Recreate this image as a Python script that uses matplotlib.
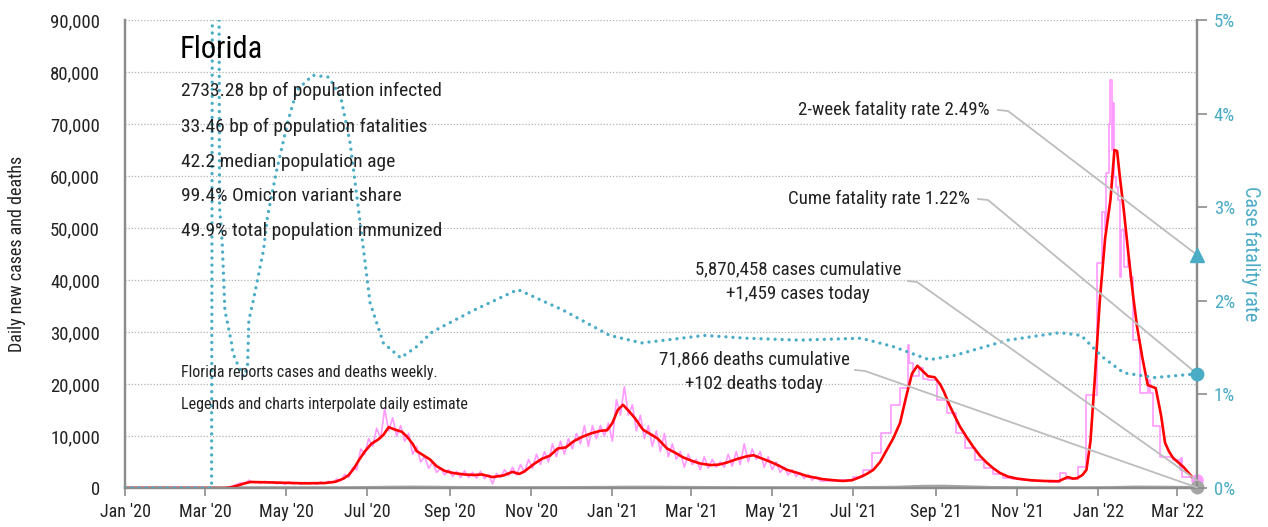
import numpy as np
import matplotlib
matplotlib.use('Agg')
import matplotlib.pyplot as plt
import matplotlib.dates as mdates
from matplotlib import font_manager as fm
from matplotlib.ticker import FuncFormatter, FixedLocator
from matplotlib.transforms import Bbox, TransformedBbox

# ---------------- fonts ----------------
_names = {f.name for f in fm.fontManager.ttflist}
FONT = 'DejaVu Sans'
for cand in ['Liberation Sans Narrow', 'Roboto Condensed', 'Open Sans Condensed',
             'DejaVu Sans Condensed', 'Liberation Sans']:
    if cand in _names:
        FONT = cand
        break
plt.rcParams['font.family'] = [FONT, 'DejaVu Sans']

# ---------------- data ----------------
BASE = np.datetime64('2020-01-01')
END_DAY = 805  # ~2022-03-16

# 7-day average of new cases (red): (day offset from BASE, value)
avg_days = [0, 75, 79, 85, 90, 94, 105, 120, 135, 150, 158, 164, 168, 172, 176, 180, 185, 190, 194,
            198, 203, 208, 212, 216, 219, 224, 229, 234, 240, 246, 255, 262, 268, 276, 284, 291, 296,
            300, 307, 313, 319, 325, 331, 337, 343, 350, 357, 362, 366, 370, 374, 379, 383, 389, 395,
            400, 407, 413, 419, 426, 432, 440, 446, 452, 460, 467, 472, 478, 485, 491, 497, 505, 512,
            518, 524, 532, 539, 546, 552, 557, 562, 567, 572, 577, 582, 587, 591, 595, 599, 603, 608,
            612, 615, 619, 622, 627, 632, 637, 642, 647, 652, 657, 663, 670, 680, 690, 701, 708, 712,
            715, 719, 722, 725, 728, 732, 736, 740, 743, 745, 747, 750, 754, 757, 760, 764, 768, 771,
            774, 778, 781, 784, 787, 795, 802, 805]
avg_vals = [0, 0, 100, 500, 900, 1150, 1100, 1000, 900, 950, 1200, 1800, 2500, 3800, 5500, 7000, 8500,
            9300, 10200, 11700, 11200, 10800, 9800, 8500, 7100, 6300, 5500, 4200, 3300, 2900, 2600,
            2500, 2600, 2100, 2400, 3100, 2700, 3200, 4600, 5600, 6200, 7600, 7800, 9000, 9800, 10500,
            11000, 11100, 12500, 15000, 16000, 14600, 13400, 11200, 10300, 9500, 7600, 6800, 5900, 5200,
            4700, 4400, 4500, 4900, 5600, 6100, 6300, 5700, 5000, 4300, 3500, 2900, 2300, 2000, 1700,
            1500, 1350, 1500, 2100, 2700, 3500, 5000, 7300, 9600, 12500, 18000, 22000, 23500, 22500,
            21500, 21300, 20000, 18500, 16000, 14400, 11800, 9800, 7900, 6200, 4900, 3800, 2900, 2200,
            1800, 1500, 1350, 1300, 2100, 1800, 1900, 2500, 3500, 9000, 20000, 36000, 48000, 55400,
            65000, 64800, 60000, 53500, 43800, 37000, 31000, 25000, 19800, 19500, 19200, 14000, 8700,
            7000, 5800, 4000, 1900, 1400]

# daily new cases (pink), daily reporting period: every 3 days from 2020-03-01 (day 60)
daily_start_day = 60
daily_step = 3
daily_vals = [0, 0, 0, 0, 0, 50, 150, 400, 700, 1000, 800, 1500, 1100, 1200, 900, 1300, 1000, 1200,
              800, 1100, 700, 1200, 800, 1000, 700, 1100, 800, 1000, 700, 1200, 900, 1300, 1000, 1700,
              1400, 2600, 2000, 4000, 3500, 7500, 6500, 9500, 8000, 11500, 9500, 15300, 11000, 13500,
              10000, 12000, 9000, 10500, 6500, 8000, 5000, 6000, 3800, 5000, 3000, 3800, 2500, 3500,
              2200, 3200, 2000, 3300, 2000, 3000, 1900, 3200, 1800, 2600, 800, 2800, 2000, 3500, 2400,
              4000, 2500, 4500, 3000, 5500, 3800, 6500, 4500, 7000, 5000, 8500, 6000, 9000, 6500, 9500,
              7500, 10500, 8500, 12000, 8000, 12000, 9500, 12000, 10000, 12500, 9000, 17000, 14000,
              19500, 14000, 16000, 11000, 14000, 9500, 12000, 8000, 11000, 7000, 10500, 6000, 8500,
              5500, 7000, 4000, 6500, 4500, 5500, 3500, 6000, 3800, 5500, 4000, 5000, 4000, 6500, 4200,
              7000, 4500, 8500, 5000, 7500, 5500, 7000, 4000, 6000, 3500, 5000, 3000, 4000, 2500, 3500,
              2200, 3000, 1800, 2600, 1500, 2200, 1400]

# daily new cases (pink), weekly-report period drawn as steps: (day offset, value)
weekly_days = [523, 530, 537, 547, 554, 561, 568, 575, 582, 588, 589, 592, 596, 599, 603, 610, 617,
               624, 631, 638, 645, 652, 659, 666, 673, 680, 687, 694, 702, 707, 716, 722, 730, 734,
               736, 737, 739, 740, 741, 742, 743, 744, 746, 747, 748, 750, 753, 755, 757, 762, 768,
               770, 772, 777, 787, 792, 793, 794, 805]
weekly_vals = [1400, 1400, 1500, 2100, 3500, 6700, 10500, 16000, 19200, 27500, 24000, 21500, 23000,
               21000, 20800, 16900, 14400, 10600, 7700, 5400, 3800, 2700, 2000, 1700, 1500, 1400, 1300,
               1200, 2900, 1800, 4000, 17900, 43300, 53000, 49600, 60600, 70000, 78500, 65000, 74000,
               59800, 57900, 55400, 40600, 49600, 42500, 43800, 40600, 28500, 18300, 20800, 18300,
               12000, 6000, 5400, 3500, 5800, 2100, 1459]

# daily deaths (gray)
death_days = [0, 75, 90, 110, 130, 160, 180, 200, 215, 230, 250, 270, 300, 330, 360, 380, 400, 430,
              460, 500, 540, 580, 600, 615, 630, 650, 680, 720, 740, 760, 780, 805]
death_vals = [0, 0, 40, 50, 40, 40, 80, 150, 180, 150, 100, 80, 60, 80, 120, 160, 150, 100, 60, 50, 40,
              150, 330, 350, 250, 100, 40, 30, 80, 180, 150, 102]

# case fatality rate, % (teal dotted)
cfr_days = [0, 65, 66, 70, 71, 73, 75, 80, 81, 84, 89, 92, 93, 96, 101, 104, 107, 114, 122, 129, 141,
            153, 162, 169, 177, 184, 194, 207, 219, 231, 262, 295, 329, 364, 388, 435, 467, 506, 553,
            577, 604, 624, 663, 702, 718, 734, 750, 773, 805]
cfr_vals = [0, 0, 9.0, 9.0, 3.0, 2.62, 1.9, 1.55, 1.44, 1.34, 1.19, 1.29, 1.79, 1.98, 2.33, 2.54, 2.9,
            3.4, 3.9, 4.25, 4.41, 4.39, 4.18, 3.69, 2.79, 1.98, 1.55, 1.39, 1.51, 1.67, 1.9, 2.12, 1.9,
            1.63, 1.55, 1.63, 1.6, 1.58, 1.6, 1.51, 1.37, 1.42, 1.58, 1.66, 1.63, 1.4, 1.23, 1.18, 1.22]

two_week_cfr = 2.49
cume_cfr = 1.22
cases_today = 1459
deaths_today = 102

title = 'Florida'
stats = ['2733.28 bp of population infected',
         '33.46 bp of population fatalities',
         '42.2 median population age',
         '99.4% Omicron variant share',
         '49.9% total population immunized']
notes = ['Florida reports cases and deaths weekly.',
         'Legends and charts interpolate daily estimates.']
ann_2wk = '2-week fatality rate 2.49%'
ann_cume = 'Cume fatality rate 1.22%'
ann_cases = '5,870,458 cases cumulative\n+1,459 cases today'
ann_deaths = '71,866 deaths cumulative\n+102 deaths today'

# ---------------- styling ----------------
PINK = '#ff99ff'
RED = '#ff0000'
TEAL = '#4bacc6'
GRAY = '#a6a6a6'
SPINE = '#8c8c8c'
TXT = '#222222'


def d(days):
    return BASE + np.asarray(days).astype('timedelta64[D]')


fig = plt.figure(figsize=(12.68, 5.27), dpi=100)
ax = fig.add_axes([125 / 1268, 39 / 527, 1072 / 1268, 468 / 527])
ax2 = ax.twinx()

xmin, xmax = d(0), d(END_DAY)
ax.set_xlim(xmin, xmax)
ax.set_ylim(0, 90000)
ax2.set_ylim(0, 5)

# grid
for v in range(10000, 90001, 10000):
    ax.axhline(v, color='#b3b3b3', lw=0.9, ls=(0, (1, 1.5)), zorder=0)

# series
daily_days = [daily_start_day + i * daily_step for i in range(len(daily_vals))]
ax.plot(d(daily_days), daily_vals, color=PINK, lw=1.2, zorder=2)
ax.plot(d(weekly_days), weekly_vals, color=PINK, lw=1.2, drawstyle='steps-post', zorder=2)
ax.plot(d(death_days), death_vals, color=GRAY, lw=2.2, zorder=2)
ax.plot(d(avg_days), avg_vals, color=RED, lw=1.9, zorder=3)
ax2.plot(d(cfr_days), cfr_vals, color=TEAL, lw=2.4, ls=(0, (0.01, 2.1)),
         dash_capstyle='round', zorder=3)

# end markers
ax2.plot([d(END_DAY)], [two_week_cfr], marker='^', ms=10, color=TEAL, clip_on=False, zorder=5)
ax2.plot([d(END_DAY)], [cume_cfr], marker='o', ms=9, color=TEAL, clip_on=False, zorder=5)
ax.plot([d(END_DAY)], [cases_today], marker='o', ms=8, color=PINK, clip_on=False, zorder=5)
ax.plot([d(END_DAY)], [deaths_today], marker='o', ms=9, color=GRAY, clip_on=False, zorder=5)

# axes formatting
ax.xaxis.set_major_locator(mdates.MonthLocator(bymonth=[1, 3, 5, 7, 9, 11]))
ax.xaxis.set_major_formatter(mdates.DateFormatter("%b '%y"))
ax.yaxis.set_major_locator(FixedLocator(list(range(0, 90001, 10000))))
ax.yaxis.set_major_formatter(FuncFormatter(lambda v, p: f'{int(v):,}'))
ax2.yaxis.set_major_locator(FixedLocator([0, 1, 2, 3, 4, 5]))
ax2.yaxis.set_major_formatter(FuncFormatter(lambda v, p: f'{int(v)}%'))

for a in (ax, ax2):
    a.spines['top'].set_visible(False)
    for s in ('left', 'right', 'bottom'):
        a.spines[s].set_color(SPINE)
        a.spines[s].set_linewidth(1.6)

ax.tick_params(axis='x', colors=SPINE, length=6, width=1.2, labelcolor=TXT, labelsize=13, pad=5)
ax.tick_params(axis='y', colors=SPINE, length=0, labelcolor=TXT, labelsize=13.5, pad=18)
ax2.tick_params(axis='y', colors=SPINE, length=7, width=1.2, labelcolor=TEAL, labelsize=13.5, pad=5)

ax.set_ylabel('Daily new cases and deaths', fontsize=13, color=TXT)
ax.yaxis.label.set(ha='center', va='center', rotation=90, rotation_mode='default')
ax.yaxis.set_label_coords((17 - 125) / 1072, 0.5)
ax2.set_ylabel('Case fatality rate', fontsize=14.5, color=TEAL)
ax2.yaxis.label.set(ha='center', va='center', rotation=270, rotation_mode='default')
ax2.yaxis.set_label_coords((1251 - 125) / 1072, 0.5)

# text block
def fx(px):
    return (px - 125) / 1072


def fy(py):
    return (488 - py) / 468


ax2.text(fx(180), fy(50), title, transform=ax.transAxes, fontsize=22, color='black',
         va='center', ha='left', zorder=6)
for i, s in enumerate(stats):
    ax2.text(fx(181), fy([91, 127, 162, 196, 231][i]), s, transform=ax.transAxes, fontsize=14,
             color=TXT, va='center', ha='left', zorder=6)
ax2.text(fx(181), fy(373), notes[0], transform=ax.transAxes, fontsize=11.5, color=TXT,
         va='center', ha='left', zorder=6)
t = ax2.text(fx(181), fy(405), notes[1], transform=ax.transAxes, fontsize=11.5, color=TXT,
             va='center', ha='left', zorder=6)
t.set_clip_box(TransformedBbox(Bbox([[0, 0], [fx(468), 1]]), ax.transAxes))
t.set_clip_on(True)

# annotations
ANN = 13.6
ax2.text(fx(990), fy(110), ann_2wk, transform=ax.transAxes, fontsize=ANN, color=TXT,
         ha='right', va='center')
ax2.text(fx(970), fy(199), ann_cume, transform=ax.transAxes, fontsize=ANN, color=TXT,
         ha='right', va='center')
ax2.text(fx(798), fy(282), ann_cases, transform=ax.transAxes, fontsize=ANN, color=TXT,
         ha='center', va='center', linespacing=1.45)
ax2.text(fx(754), fy(372), ann_deaths, transform=ax.transAxes, fontsize=ANN, color=TXT,
         ha='center', va='center', linespacing=1.45)

fig.canvas.draw()
inv = ax.transAxes.inverted()


def leader(p0, p1, target_axis, tx, ty):
    tgt = inv.transform(target_axis.transData.transform((mdates.date2num(d(tx)), ty)))
    xs = [fx(p0[0]), fx(p1[0]), tgt[0]]
    ys = [fy(p0[1]), fy(p1[1]), tgt[1]]
    ax2.plot(xs, ys, transform=ax.transAxes, color='#bdbdbd', lw=1.3, clip_on=False, zorder=4)


leader((998, 110), (1008, 111), ax2, END_DAY, two_week_cfr)
leader((978, 199), (988, 200), ax2, END_DAY, cume_cfr)
leader((908, 281), (917, 282), ax, END_DAY, cases_today)
leader((855, 370), (865, 371), ax, END_DAY, deaths_today)

fig.savefig('out.png', dpi=100)
